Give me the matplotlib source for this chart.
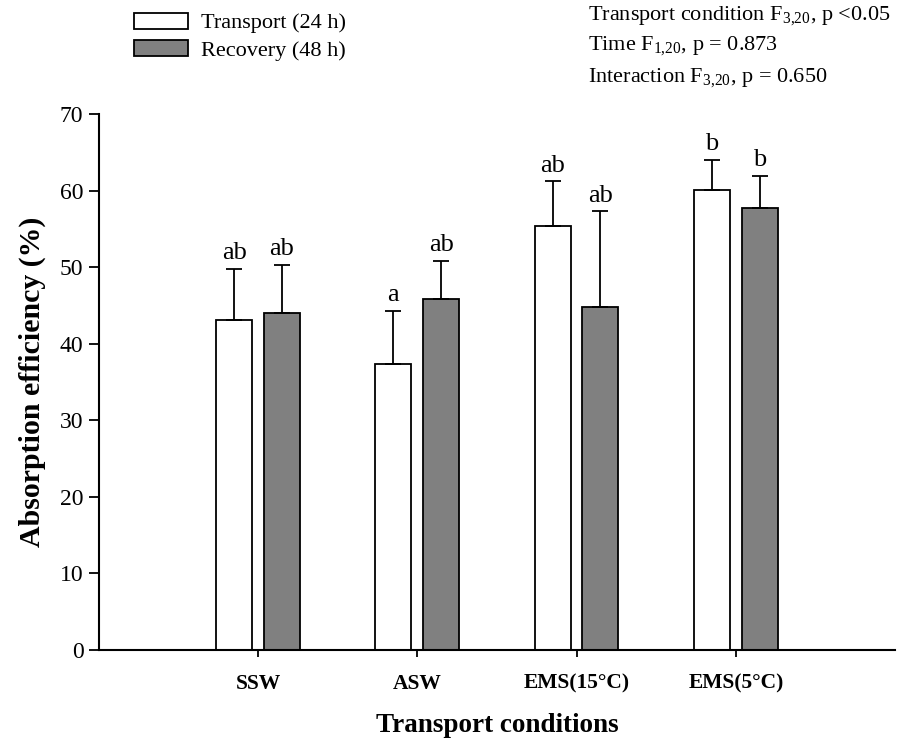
import matplotlib
matplotlib.use("Agg")
import matplotlib.pyplot as plt
import numpy as np

plt.rcParams['font.family'] = ['Liberation Serif', 'DejaVu Serif']
plt.rcParams['mathtext.fontset'] = 'custom'
plt.rcParams['mathtext.rm'] = 'Liberation Serif'

categories = ["SSW", "ASW", "EMS(15°C)", "EMS(5°C)"]
transport = [43.1, 37.3, 55.4, 60.1]
transport_err = [6.7, 7.0, 5.8, 3.9]
recovery = [44.0, 45.9, 44.8, 57.7]
recovery_err = [6.3, 4.9, 12.5, 4.2]
transport_letters = ["ab", "a", "ab", "b"]
recovery_letters = ["ab", "ab", "ab", "b"]

fig = plt.figure(figsize=(8.97, 7.4), dpi=100)
ax = fig.add_axes([0.110, 0.1216, 0.888, 0.7244])

x = np.arange(1, len(categories) + 1)
w = 0.226
off = 0.15
ekw = dict(ecolor='black', elinewidth=1.3, capsize=6, capthick=1.3)
ax.bar(x - off, transport, w, color='white', edgecolor='black', linewidth=1.3,
       yerr=[np.zeros(4), transport_err], error_kw=ekw, label='Transport (24 h)', zorder=2)
ax.bar(x + off, recovery, w, color='#808080', edgecolor='black', linewidth=1.3,
       yerr=[np.zeros(4), recovery_err], error_kw=ekw, label='Recovery (48 h)', zorder=2)

for i in range(len(categories)):
    ax.text(x[i] - off, transport[i] + transport_err[i] + 0.6, transport_letters[i],
            ha='center', va='bottom', fontsize=19)
    ax.text(x[i] + off, recovery[i] + recovery_err[i] + 0.6, recovery_letters[i],
            ha='center', va='bottom', fontsize=19)

ax.set_xlim(0, 5)
ax.set_ylim(0, 70)
ax.set_yticks(np.arange(0, 71, 10))
ax.set_xticks(x)
ax.set_xticklabels(categories, fontweight='bold', fontsize=15.5)
ax.tick_params(axis='x', length=5, width=1.3, pad=12)
ax.tick_params(axis='y', length=7, width=1.3, labelsize=17, pad=4)
for s in ['top', 'right']:
    ax.spines[s].set_visible(False)
for s in ['left', 'bottom']:
    ax.spines[s].set_linewidth(1.5)

ax.set_xlabel('Transport conditions', fontsize=19.5, fontweight='bold', va='baseline')
ax.xaxis.set_label_coords(0.5, (650 - 732) / 536)
ax.set_ylabel('Absorption efficiency (%)', fontsize=21.5, fontweight='bold', labelpad=10)

fig.legend(loc='upper left', bbox_to_anchor=(0.140, 0.995), frameon=False,
           fontsize=16, handlelength=2.4, handleheight=0.75, labelspacing=0.3,
           handletextpad=0.6, borderaxespad=0)

texts = [r"Transport condition F$_{3{,}20}$, p <0.05",
         r"Time F$_{1{,}20}$, p = 0.873",
         r"Interaction F$_{3{,}20}$, p = 0.650"]
ys = [0.978, 0.937, 0.894]
for t, yy in zip(texts, ys):
    fig.text(0.656, yy, t, fontsize=16, ha='left', va='center')

fig.savefig('out.png', dpi=100)
